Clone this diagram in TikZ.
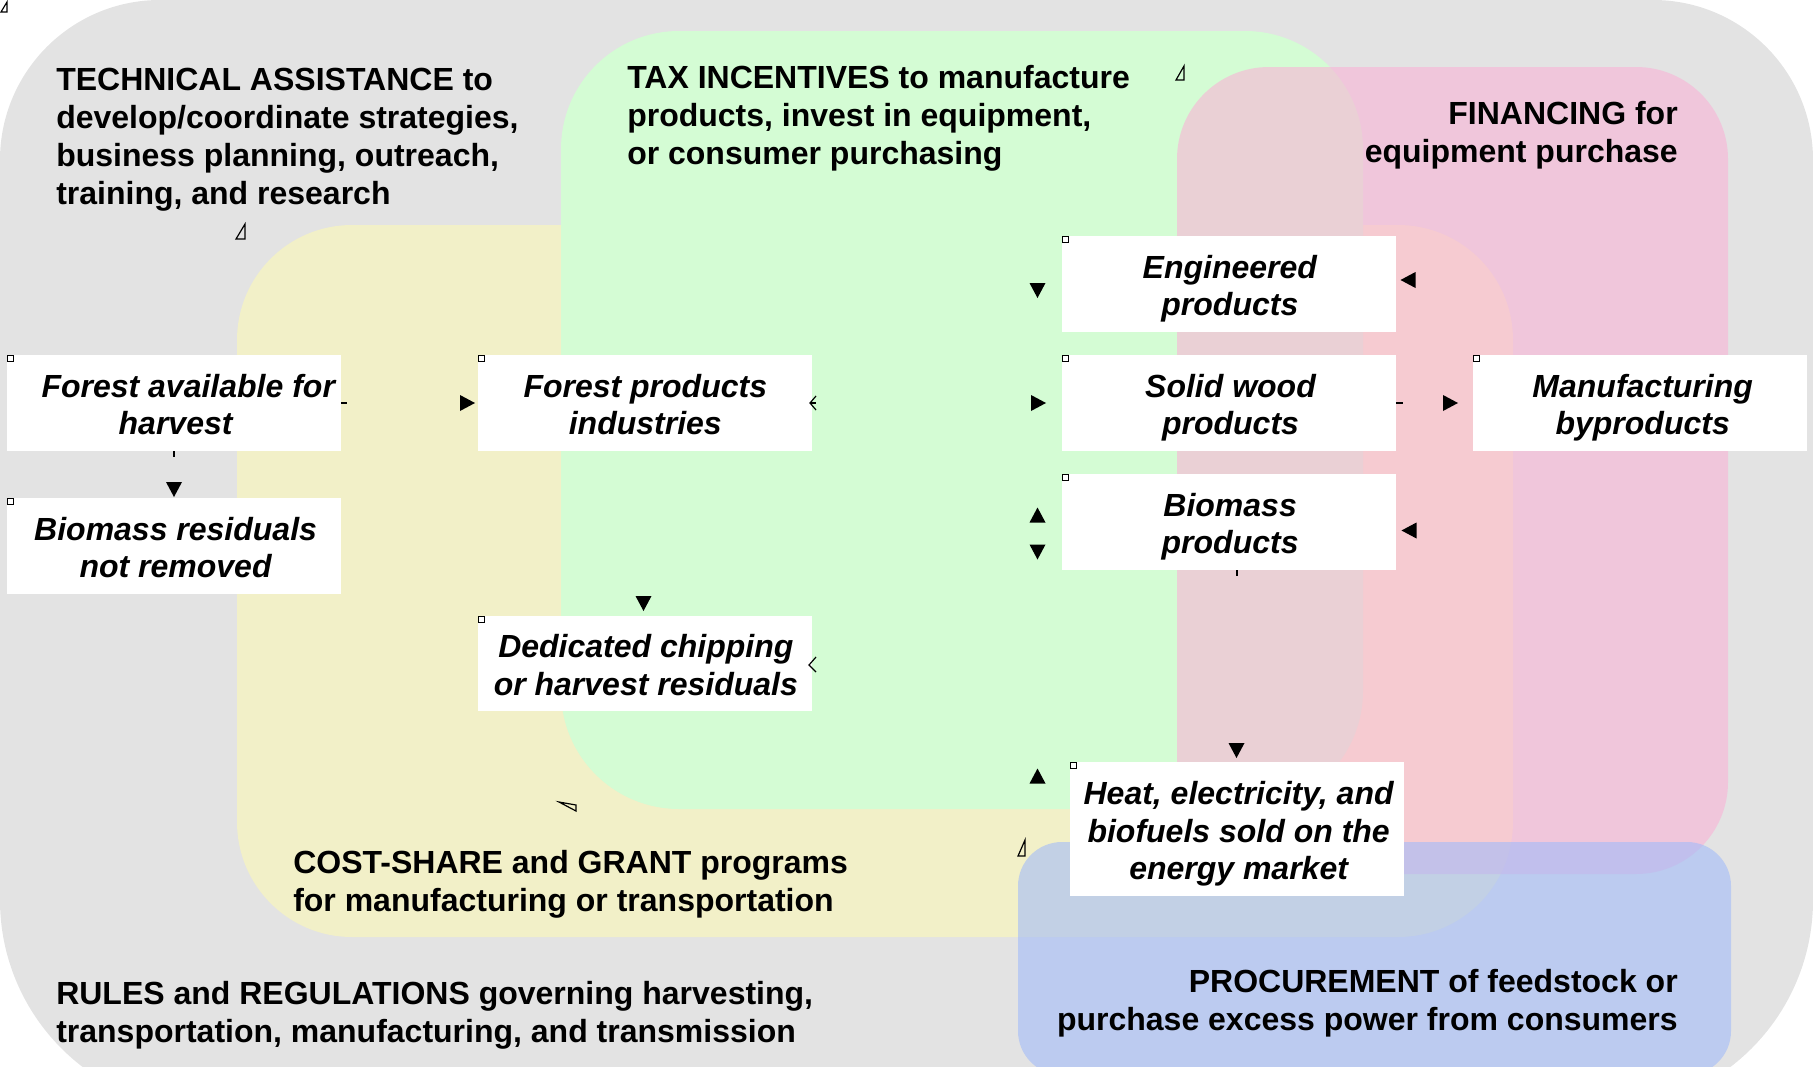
\documentclass[tikz,border=0pt]{standalone}
\usepackage{fontspec}
\setmainfont{Liberation Sans}
\definecolor{outg}{RGB}{227,227,227}
\definecolor{yel}{RGB}{242,240,200}
\definecolor{grn}{RGB}{212,252,212}
\definecolor{pnk}{RGB}{249,179,215}
\definecolor{blu}{RGB}{162,187,249}
\begin{document}
\begin{tikzpicture}[x=0.75pt,y=-0.75pt,
  box/.style={fill=white, inner sep=0pt, minimum width=250.5pt, minimum height=72pt},
  boxtxt/.style={inner sep=0pt, align=center, font=\fontsize{24}{28}\selectfont\bfseries\itshape},
  lbl/.style={inner sep=0pt, font=\fontsize{24}{28.3}\selectfont\bfseries},
  sq/.style={draw=black, fill=white, line width=1.1pt},
  tick/.style={line width=1.1pt},
  openmark/.style={draw=black, line width=0.9pt},
  tipD/.pic={\fill (-8,-7.5) -- (8,-7.5) -- (0,7.5) -- cycle;},
  tipU/.pic={\fill (-8,7.5) -- (8,7.5) -- (0,-7.5) -- cycle;},
  tipR/.pic={\fill (-7.5,-8) -- (7.5,0) -- (-7.5,8) -- cycle;},
  tipL/.pic={\fill (7.5,-8) -- (-7.5,0) -- (7.5,8) -- cycle;},
]
\useasboundingbox (0,0) rectangle (1813,1067);
\begin{scope}
\clip (0,0) rectangle (1813,1067);
\fill[outg] (0,600) [rounded corners=120pt] -- (0,0) -- (1813,0) -- (1813,600) [rounded corners=157.5pt] -- (1813,1110) -- (0,1110) -- (0,600) -- cycle;
\fill[yel, rounded corners=86.25pt] (237,225) rectangle (1513,937);
\fill[grn, rounded corners=88.5pt] (561,31) rectangle (1363,809);
\fill[pnk, fill opacity=0.6, rounded corners=69pt] (1177,67) rectangle (1728,874);
\fill[blu, fill opacity=0.6, rounded corners=33pt] (1018,842) rectangle (1731,1075);
\end{scope}

% region labels (base = baseline of last line)
\node[lbl, anchor=base west, align=left] (ta) at (56,204) {TECHNICAL ASSISTANCE to\\develop/coordinate strategies,\\business planning, outreach,\\training, and research};
\node[lbl, anchor=base west, align=left] (tax) at (627,164) {TAX INCENTIVES to manufacture\\products, invest in equipment,\\or consumer purchasing};
\node[lbl, anchor=base east, align=right] (fin) at (1678,162) {FINANCING for\\equipment purchase};
\node[lbl, anchor=base west, align=left] (cost) at (293,911) {COST-SHARE and GRANT programs\\for manufacturing or transportation};
\node[lbl, anchor=base west, align=left] (rules) at (56,1042) {RULES and REGULATIONS governing harvesting,\\transportation, manufacturing, and transmission};
\node[lbl, anchor=base east, align=right] (proc) at (1678,1030) {PROCUREMENT of feedstock or\\purchase excess power from consumers};

% boxes
\node[box] (fa) at (174,403) {};
\node[box] (br) at (174,546) {};
\node[box] (fpi) at (644.5,403) {};
\node[box, minimum height=71.25pt] (dc) at (644.5,663.5) {};
\node[box] (ep) at (1228.5,284) {};
\node[box] (sw) at (1228.5,403) {};
\node[box] (bp) at (1228.5,522) {};
\node[box] (mb) at (1640,403) {};
\node[box, minimum height=100.5pt] (heat) at (1236.5,829) {};

\node[boxtxt] (fa-t) at ([shift={(1.2pt,-3.6pt)}]fa.center) {\hspace*{19pt}Forest available for\\harvest\vphantom{p}};
\node[boxtxt] (br-t) at ([shift={(1.2pt,-3.6pt)}]br.center) {Biomass residuals\\not removed\vphantom{p}};
\node[boxtxt] (fpi-t) at ([shift={(0.6pt,-3.6pt)}]fpi.center) {Forest products\\industries\vphantom{p}};
\node[boxtxt] (dc-t) at ([shift={(1.0pt,-3.6pt)}]dc.center) {Dedicated chipping\\or harvest residuals\vphantom{p}};
\node[boxtxt] (ep-t) at ([shift={(1.0pt,-3.6pt)}]ep.center) {Engineered\\products\vphantom{p}};
\node[boxtxt] (sw-t) at ([shift={(1.5pt,-3.6pt)}]sw.center) {Solid wood\\products\vphantom{p}};
\node[boxtxt] (bp-t) at ([shift={(1.2pt,-3.6pt)}]bp.center) {Biomass\\products\vphantom{p}};
\node[boxtxt] (mb-t) at ([shift={(2.0pt,-3.6pt)}]mb.center) {Manufacturing\\byproducts\vphantom{p}};
\node[boxtxt] (heat-t) at ([shift={(1.6pt,-3.6pt)}]heat.center) {Heat, electricity, and\\biofuels sold on the\\energy market\vphantom{p}};

% corner squares
\foreach \b in {fa,br,fpi,dc,ep,sw,bp,mb,heat}
  \draw[sq] ([shift={(1,1)}]\b.north west) rectangle ++(6,6);

% connector stubs
\draw[tick] (fa.east) -- ++(6,0);
\draw[tick] (fa.south) -- ++(0,6);
\draw[tick] (sw.east) -- ++(7,0);
\draw[tick] ([xshift=6.4pt]bp.south) -- ++(0,6);

% arrow tips
\pic at (467.5,403) {tipR};
\pic at (174,489.5) {tipD};
\pic at (643.5,603.5) {tipD};
\pic at (1037.5,290.5) {tipD};
\pic at (1038.5,403) {tipR};
\pic at (1037.5,515) {tipU};
\pic at (1037.5,552) {tipD};
\pic at (1037.5,776) {tipU};
\pic at (1408,280) {tipL};
\pic at (1450.5,403) {tipR};
\pic at (1409,530.5) {tipL};
\pic at (1236.5,750.5) {tipD};

% open marks
\draw[openmark] (816,396) -- (810,403) -- (816,410);
\draw[openmark] (811,403) -- (816,403);
\draw[openmark] (816,657) -- (809,665) -- (816,672);
\draw[openmark] (1,12) -- (7,2) -- (7,12) -- cycle;
\draw[openmark] (236,239) -- (245,224) -- (245,239) -- cycle;
\draw[openmark] (1176,80) -- (1184,66) -- (1184,80) -- cycle;
\draw[openmark] (559,802) -- (576,805) -- (576,811) -- cycle;
\draw[openmark] (1018,856) -- (1025,840) -- (1025,856) -- cycle;
\end{tikzpicture}
\end{document}
